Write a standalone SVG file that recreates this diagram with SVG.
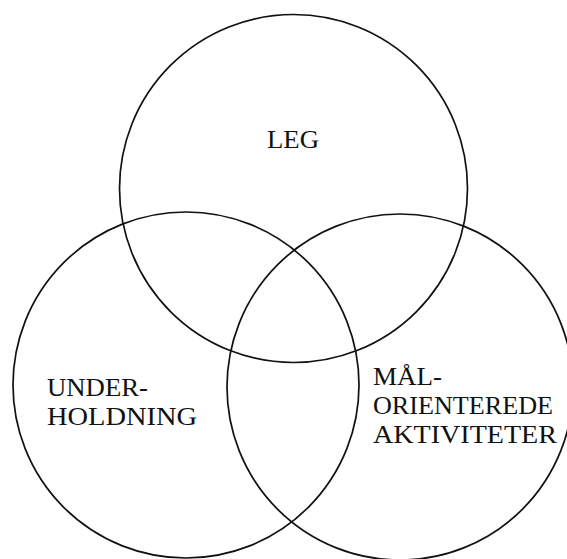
<svg xmlns="http://www.w3.org/2000/svg" width="567" height="559" viewBox="0 0 567 559">
<style>
.c{fill:none;stroke:#111;stroke-width:1.7}
.t{font-family:"Liberation Serif","DejaVu Serif",serif;font-size:26px;fill:#111}
</style>
<rect width="567" height="559" fill="#fff"/>
<g id="leg">
<circle class="c" cx="293.5" cy="188.5" r="174"/>
<text class="t" x="267" y="148" textLength="52" lengthAdjust="spacingAndGlyphs">LEG</text>
</g>
<g id="underholdning">
<circle class="c" cx="186" cy="385" r="173"/>
<text class="t" x="47" y="396" textLength="101" lengthAdjust="spacingAndGlyphs">UNDER-</text>
<text class="t" x="47" y="425" textLength="150" lengthAdjust="spacingAndGlyphs">HOLDNING</text>
</g>
<g id="maalorienterede">
<circle class="c" cx="400" cy="387" r="173"/>
<text class="t" x="373" y="385" textLength="69" lengthAdjust="spacingAndGlyphs">MÅL-</text>
<text class="t" x="373" y="414" textLength="180" lengthAdjust="spacingAndGlyphs">ORIENTEREDE</text>
<text class="t" x="373" y="443" textLength="184" lengthAdjust="spacingAndGlyphs">AKTIVITETER</text>
</g>
<g id="connectors"></g>
</svg>
